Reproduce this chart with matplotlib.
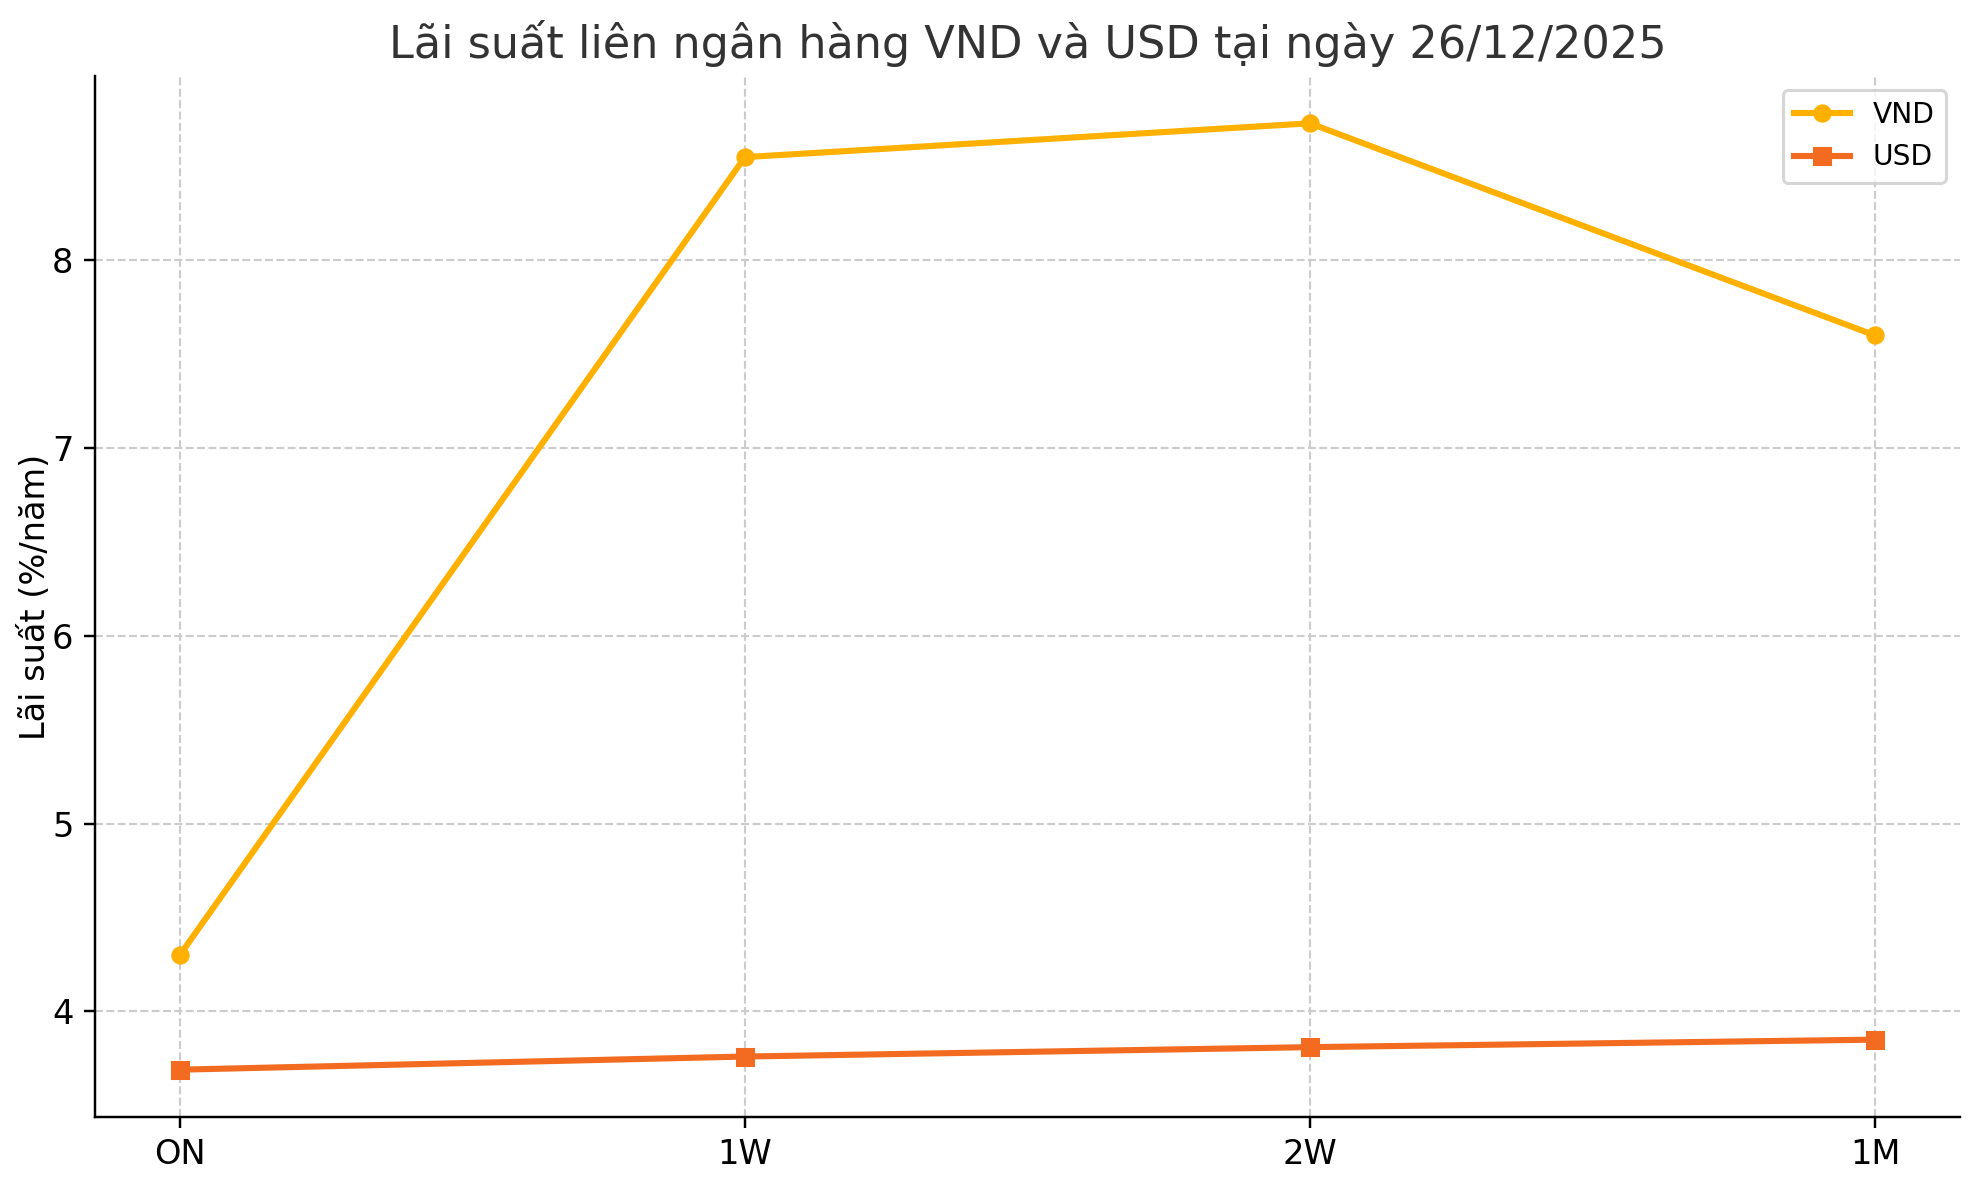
import matplotlib
matplotlib.use('Agg')
import matplotlib.pyplot as plt

terms = ['ON', '1W', '2W', '1M']
vnd_rates = [4.30, 8.55, 8.73, 7.60]
usd_rates = [3.69, 3.76, 3.81, 3.85]

fig, ax = plt.subplots(figsize=(9, 1180 / 220), dpi=220)

x = range(len(terms))
ax.plot(x, vnd_rates, marker='o', color='#FFB000', linewidth=2, markersize=5, label='VND')
ax.plot(x, usd_rates, marker='s', color='#F26B21', linewidth=2, markersize=5, label='USD')

ax.set_xticks(list(x))
ax.set_xticklabels(terms)
ax.set_title('Lãi suất liên ngân hàng VND và USD tại ngày 26/12/2025', fontsize=14.6, color='#333333')
ax.set_ylabel('Lãi suất (%/năm)', fontsize=11, labelpad=0)
ax.tick_params(labelsize=11)
ax.grid(True, linestyle='--', color='#cccccc', linewidth=0.7)
ax.spines['top'].set_visible(False)
ax.spines['right'].set_visible(False)
ax.legend(loc='upper right', fontsize=9.2)

fig.subplots_adjust(left=95 / 1980, right=1960 / 1980, top=1 - 76 / 1180, bottom=1 - 1117 / 1180)
fig.savefig('out.png', dpi=220)
